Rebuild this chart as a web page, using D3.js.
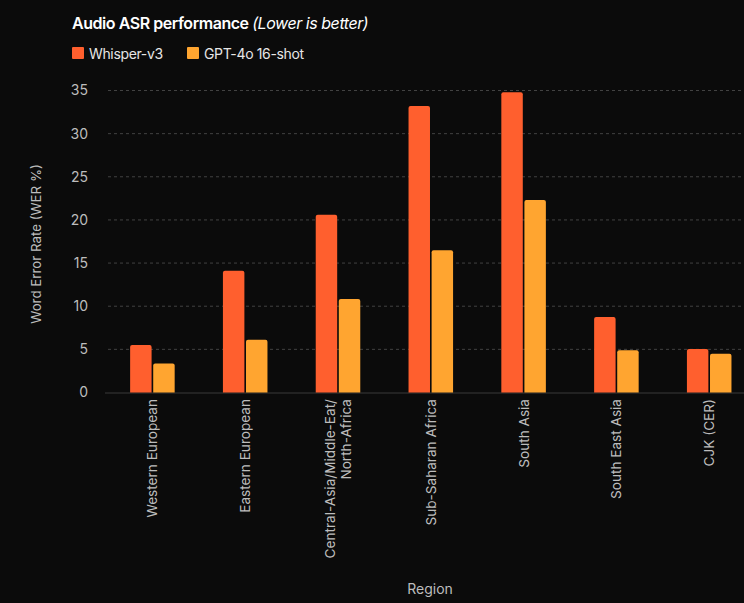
<!DOCTYPE html>
<html><head><meta charset="utf-8">
<script src="https://cdn.jsdelivr.net/npm/d3@7"></script>
<style>
html,body{margin:0;padding:0;background:#0b0b0b;}
svg{display:block;font-family:Inter,"Noto Sans",sans-serif;}
</style></head>
<body>
<svg id="c" width="744" height="603"></svg>
<script>
const categories = ["Western European","Eastern European","Central-Asia/Middle-Eat/\nNorth-Africa","Sub-Saharan Africa","South Asia","South East Asia","CJK (CER)"];
const seriesNames = ["Whisper-v3","GPT-4o 16-shot"];
const whisperV3 = [5.5, 14.1, 20.6, 33.2, 34.8, 8.75, 5.05];
const gpt4o16shot = [3.35, 6.1, 10.85, 16.5, 22.3, 4.9, 4.5];
const yTicks = [0,5,10,15,20,25,30,35];
const colors = ["#ff5f2e","#ffa530"];

const svg = d3.select("#c");
svg.append("rect").attr("width",744).attr("height",603).attr("fill","#0b0b0b");

const y = d3.scaleLinear().domain([0,35]).range([392.5,90.5]);
const x0 = d3.scaleBand().domain(categories).range([106,755.6]).paddingInner(0.52).paddingOuter(0.26);
const x1 = d3.scaleBand().domain(seriesNames).range([0,x0.bandwidth()]).paddingInner(0.07);

// gridlines
svg.append("g").selectAll("line").data(yTicks.filter(d=>d>0)).join("line")
  .attr("x1",108).attr("x2",744).attr("y1",d=>y(d)).attr("y2",d=>y(d))
  .attr("stroke","#424242").attr("stroke-width",1).attr("stroke-dasharray","3,3");

// y axis
const yAxis = svg.append("g").attr("transform","translate(88,0)")
  .call(d3.axisLeft(y).tickValues(yTicks).tickSize(0).tickPadding(0));
yAxis.select(".domain").remove();
yAxis.selectAll("text").attr("fill","#bdbdbd").attr("font-size",14).attr("font-family","Inter,sans-serif");

// baseline
svg.append("line").attr("x1",105).attr("x2",744).attr("y1",y(0)+0.5).attr("y2",y(0)+0.5)
  .attr("stroke","#3a3a3a").attr("stroke-width",1.2);

// bars
const rows = categories.map((c,i)=>({cat:c, vals:[whisperV3[i], gpt4o16shot[i]]}));
function topRounded(xp,yp,w,h,r){
  return `M${xp},${yp+h}V${yp+r}Q${xp},${yp} ${xp+r},${yp}H${xp+w-r}Q${xp+w},${yp} ${xp+w},${yp+r}V${yp+h}Z`;
}
svg.append("g").selectAll("g").data(rows).join("g")
  .attr("transform",d=>`translate(${x0(d.cat)},0)`)
  .selectAll("path").data(d=>d.vals.map((v,j)=>({s:seriesNames[j],v,j}))).join("path")
  .attr("d",d=>topRounded(x1(d.s),y(d.v),x1.bandwidth(),y(0)-y(d.v),2))
  .attr("fill",d=>colors[d.j]);

// x tick labels
const xl = svg.append("g");
categories.forEach(c=>{
  const lines = c.split("\n");
  const cx = x0(c)+x0.bandwidth()/2;
  const lh = 16.5;
  lines.forEach((ln,k)=>{
    const off = (k-(lines.length-1)/2)*lh;
    xl.append("text")
      .attr("transform",`translate(${cx+off+5},399) rotate(-90)`)
      .attr("text-anchor","end").attr("fill","#bdbdbd").attr("font-size",13.6)
      .text(ln);
  });
});

// axis titles
svg.append("text").attr("transform","translate(41,244) rotate(-90)").attr("text-anchor","middle")
  .attr("fill","#bdbdbd").attr("font-size",13.3).text("Word Error Rate (WER %)");
svg.append("text").attr("x",430).attr("y",594).attr("text-anchor","middle")
  .attr("fill","#bdbdbd").attr("font-size",14).text("Region");

// title
const t = svg.append("text").attr("x",72).attr("y",29).attr("fill","#ffffff").attr("font-size",16).attr("letter-spacing",-0.45);
t.append("tspan").attr("font-weight",600).text("Audio ASR performance ");
t.append("tspan").attr("font-style","italic").text("(Lower is better)");

// legend
const legX = [72,187];
seriesNames.forEach((s,i)=>{
  svg.append("rect").attr("x",legX[i]).attr("y",47).attr("width",12).attr("height",12).attr("rx",1).attr("fill",colors[i]);
  svg.append("text").attr("x",legX[i]+17).attr("y",58.5).attr("fill","#e6e6e6").attr("font-size",14).attr("letter-spacing",-0.35).text(s);
});
</script>
</body></html>
